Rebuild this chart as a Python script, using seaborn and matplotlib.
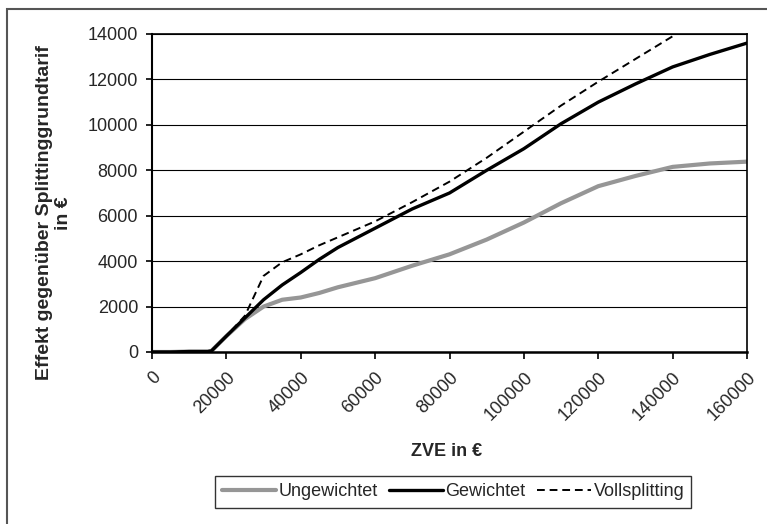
import pandas as pd
import matplotlib.pyplot as plt
import seaborn as sb
from matplotlib.patches import Rectangle

# Values
zve = [0, 5000, 10000, 15000, 16000, 20000, 25000, 30000, 35000, 40000, 45000,
       50000, 60000, 70000, 80000, 90000, 100000, 110000, 120000, 130000,
       140000, 150000, 160000]
ungewichtet = [0, 0, 20, 20, 50, 700, 1450, 2000, 2300, 2400, 2600,
               2850, 3250, 3800, 4300, 4950, 5700, 6550, 7300, 7750,
               8150, 8300, 8380]
gewichtet = [0, 0, 20, 20, 50, 700, 1500, 2300, 2950, 3500, 4080,
             4600, 5450, 6300, 7000, 8000, 8950, 10050, 11000, 11800,
             12550, 13100, 13600]
vollsplitting = [0, 0, 20, 20, 50, 700, 1600, 3350, 3950, 4300, 4700,
                 5050, 5750, 6600, 7500, 8550, 9700, 10850, 11900, 12900,
                 13900, 14900, 15900]
y_ticks = [0, 2000, 4000, 6000, 8000, 10000, 12000, 14000]
x_ticks = [0, 20000, 40000, 60000, 80000, 100000, 120000, 140000, 160000]

df = pd.DataFrame({'zve': zve, 'Ungewichtet': ungewichtet,
                   'Gewichtet': gewichtet, 'Vollsplitting': vollsplitting})

sb.set_style('white')
plt.rcParams['font.family'] = ['Liberation Sans', 'DejaVu Sans']
fs = 13

fig = plt.figure(figsize=(7.67, 5.24), dpi=100)
ax = fig.add_axes([152 / 767, 1 - 352 / 524, (747 - 152) / 767, (352 - 34) / 524])

sb.lineplot(data=df, x='zve', y='Ungewichtet', ax=ax, color='#969696',
            linewidth=3.0, label='Ungewichtet')
sb.lineplot(data=df, x='zve', y='Gewichtet', ax=ax, color='black',
            linewidth=2.4, label='Gewichtet')
sb.lineplot(data=df, x='zve', y='Vollsplitting', ax=ax, color='black',
            linewidth=1.4, linestyle=(0, (4, 2.5)), label='Vollsplitting')

ax.set_xlim(0, 160000)
ax.set_ylim(0, 14000)
ax.set_yticks(y_ticks)
ax.set_yticklabels([str(v) for v in y_ticks], fontsize=fs)
ax.set_xticks(x_ticks)
ax.set_xticklabels([str(v) for v in x_ticks], fontsize=fs, rotation=45,
                   ha='right', rotation_mode='anchor')
ax.tick_params(axis='both', direction='out', length=4, width=1.2, color='black',
               left=True, bottom=True)
ax.tick_params(axis='y', pad=6)
ax.tick_params(axis='x', length=5, pad=7)

# Grid and frame
ax.yaxis.grid(True, color='black', linewidth=0.8)
ax.set_axisbelow(True)
for side in ['left', 'bottom', 'right', 'top']:
    ax.spines[side].set_visible(True)
    ax.spines[side].set_color('black')
    ax.spines[side].set_linewidth(1.2)
ax.spines['bottom'].set_linewidth(1.8)
ax.spines['left'].set_linewidth(1.5)

ax.set_xlabel('')
ax.set_ylabel('')
fig.text(447 / 767, 1 - 452 / 524, 'ZVE in €', fontsize=fs, fontweight='bold',
         ha='center', va='center')
fig.text(54 / 767, 1 - 213 / 524, 'Effekt gegenüber Splittinggrundtarif\nin €',
         fontsize=14, fontweight='bold', rotation=90, ha='center', va='center',
         multialignment='center', linespacing=1.1)

ax.get_legend().remove()
handles, labels = ax.get_legend_handles_labels()
leg = fig.legend(handles, labels, loc='center', ncol=3,
                 bbox_to_anchor=(453 / 767, 1 - 492 / 524), fontsize=fs,
                 frameon=True, fancybox=False, edgecolor='black',
                 handlelength=3.0, handletextpad=0.15, columnspacing=0.6,
                 borderpad=0.4)
leg.get_frame().set_linewidth(1.0)

# Outer chart border (right and bottom fall outside the image)
fig.patches.append(Rectangle((6.5 / 767, -0.05), 1.2, (1 - 9 / 524) + 0.05,
                             transform=fig.transFigure, fill=False,
                             edgecolor='#555555', linewidth=1.5))

plt.savefig('out.png', dpi=100)
